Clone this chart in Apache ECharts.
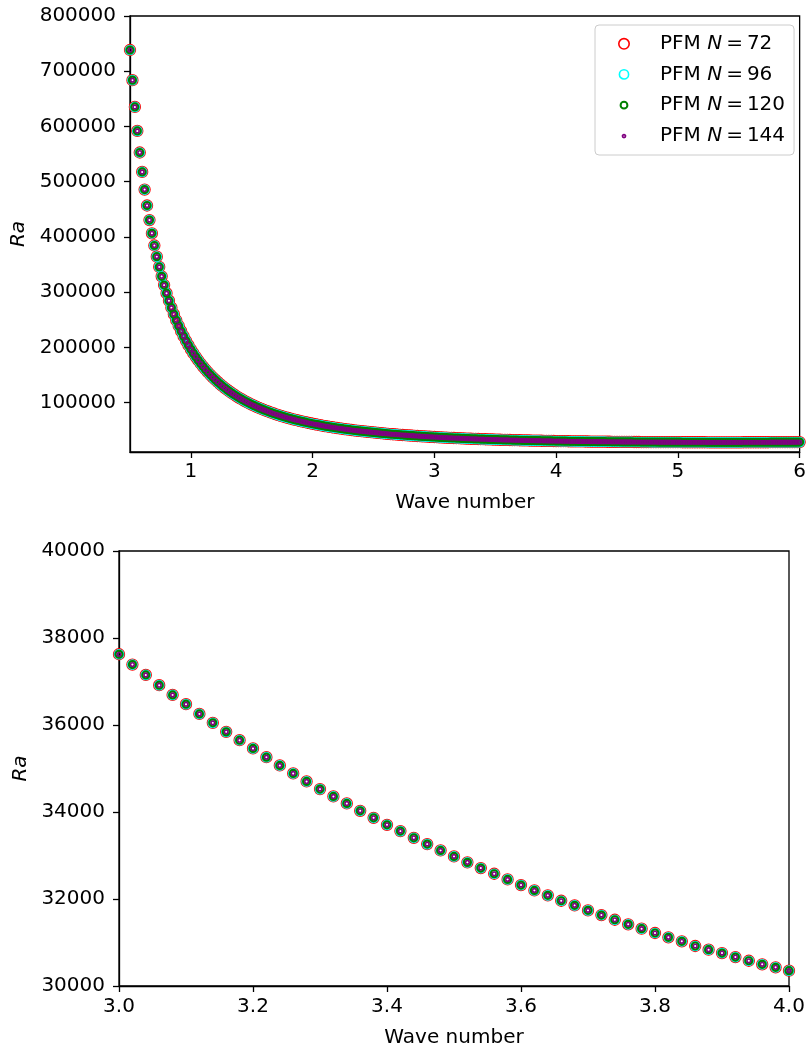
<!DOCTYPE html>
<html>
<head>
<meta charset="utf-8">
<title>Ra vs wave number</title>
<script src="https://cdn.jsdelivr.net/npm/echarts@6/dist/echarts.min.js"></script>
<style>
  html, body { margin: 0; padding: 0; background: #fff; }
  #chart { width: 809px; height: 1051px; }
</style>
</head>
<body>
<div id="chart"></div>
<script>
// Wave numbers sampled by the solver
const waveNumbers = [
  0.50, 0.52, 0.54, 0.56, 0.58, 0.60, 0.62, 0.64, 0.66, 0.68,
  0.70, 0.72, 0.74, 0.76, 0.78, 0.80, 0.82, 0.84, 0.86, 0.88,
  0.90, 0.92, 0.94, 0.96, 0.98, 1.00, 1.02, 1.04, 1.06, 1.08,
  1.10, 1.12, 1.14, 1.16, 1.18, 1.20, 1.22, 1.24, 1.26, 1.28,
  1.30, 1.32, 1.34, 1.36, 1.38, 1.40, 1.42, 1.44, 1.46, 1.48,
  1.50, 1.52, 1.54, 1.56, 1.58, 1.60, 1.62, 1.64, 1.66, 1.68,
  1.70, 1.72, 1.74, 1.76, 1.78, 1.80, 1.82, 1.84, 1.86, 1.88,
  1.90, 1.92, 1.94, 1.96, 1.98, 2.00, 2.02, 2.04, 2.06, 2.08,
  2.10, 2.12, 2.14, 2.16, 2.18, 2.20, 2.22, 2.24, 2.26, 2.28,
  2.30, 2.32, 2.34, 2.36, 2.38, 2.40, 2.42, 2.44, 2.46, 2.48,
  2.50, 2.52, 2.54, 2.56, 2.58, 2.60, 2.62, 2.64, 2.66, 2.68,
  2.70, 2.72, 2.74, 2.76, 2.78, 2.80, 2.82, 2.84, 2.86, 2.88,
  2.90, 2.92, 2.94, 2.96, 2.98, 3.00, 3.02, 3.04, 3.06, 3.08,
  3.10, 3.12, 3.14, 3.16, 3.18, 3.20, 3.22, 3.24, 3.26, 3.28,
  3.30, 3.32, 3.34, 3.36, 3.38, 3.40, 3.42, 3.44, 3.46, 3.48,
  3.50, 3.52, 3.54, 3.56, 3.58, 3.60, 3.62, 3.64, 3.66, 3.68,
  3.70, 3.72, 3.74, 3.76, 3.78, 3.80, 3.82, 3.84, 3.86, 3.88,
  3.90, 3.92, 3.94, 3.96, 3.98, 4.00, 4.02, 4.04, 4.06, 4.08,
  4.10, 4.12, 4.14, 4.16, 4.18, 4.20, 4.22, 4.24, 4.26, 4.28,
  4.30, 4.32, 4.34, 4.36, 4.38, 4.40, 4.42, 4.44, 4.46, 4.48,
  4.50, 4.52, 4.54, 4.56, 4.58, 4.60, 4.62, 4.64, 4.66, 4.68,
  4.70, 4.72, 4.74, 4.76, 4.78, 4.80, 4.82, 4.84, 4.86, 4.88,
  4.90, 4.92, 4.94, 4.96, 4.98, 5.00, 5.02, 5.04, 5.06, 5.08,
  5.10, 5.12, 5.14, 5.16, 5.18, 5.20, 5.22, 5.24, 5.26, 5.28,
  5.30, 5.32, 5.34, 5.36, 5.38, 5.40, 5.42, 5.44, 5.46, 5.48,
  5.50, 5.52, 5.54, 5.56, 5.58, 5.60, 5.62, 5.64, 5.66, 5.68,
  5.70, 5.72, 5.74, 5.76, 5.78, 5.80, 5.82, 5.84, 5.86, 5.88,
  5.90, 5.92, 5.94, 5.96, 5.98, 6.00
];

// Critical Rayleigh number at each wave number (the four resolutions coincide)
const rayleigh = [
  738400, 683880, 635310, 591840, 552800, 517590, 485740, 456820, 430500, 406470,
  384460, 364270, 345690, 328560, 312730, 298070, 284470, 271840, 260070, 249100,
  238850, 229270, 220290, 211870, 203950, 196510, 189500, 182900, 176660, 170770,
  165200, 159920, 154920, 150180, 145680, 141400, 137330, 133450, 129760, 126250,
  122890, 119690, 116630, 113700, 110900, 108220, 105650, 103190, 100840, 98570,
  96400, 94310, 92310, 90380, 88530, 86740, 85030, 83370, 81780, 80240,
  78760, 77320, 75940, 74610, 73320, 72080, 70870, 69710, 68580, 67500,
  66440, 65420, 64430, 63470, 62550, 61640, 60770, 59930, 59100, 58310,
  57530, 56780, 56050, 55340, 54660, 53990, 53340, 52700, 52090, 51490,
  50910, 50340, 49790, 49250, 48730, 48220, 47730, 47240, 46770, 46310,
  45870, 45430, 45010, 44590, 44190, 43800, 43410, 43040, 42670, 42320,
  41970, 41630, 41300, 40970, 40660, 40350, 40050, 39750, 39460, 39180,
  38910, 38640, 38380, 38120, 37870, 37627, 37390, 37151, 36915, 36692,
  36478, 36255, 36049, 35842, 35651, 35461, 35261, 35070, 34886, 34702,
  34526, 34358, 34197, 34027, 33866, 33706, 33561, 33407, 33262, 33117,
  32979, 32842, 32711, 32580, 32451, 32320, 32198, 32084, 31960, 31854,
  31739, 31631, 31523, 31418, 31317, 31218, 31119, 31027, 30919, 30834,
  30758, 30666, 30581, 30499, 30430, 30352, 30280, 30200, 30120, 30050,
  29980, 29910, 29850, 29780, 29720, 29660, 29600, 29540, 29480, 29420,
  29370, 29320, 29260, 29210, 29160, 29120, 29070, 29030, 28980, 28940,
  28900, 28860, 28820, 28780, 28750, 28710, 28680, 28640, 28610, 28580,
  28550, 28520, 28500, 28470, 28440, 28420, 28400, 28370, 28350, 28330,
  28310, 28290, 28270, 28260, 28240, 28230, 28210, 28200, 28190, 28170,
  28160, 28150, 28140, 28135, 28127, 28120, 28114, 28109, 28104, 28100,
  28096, 28094, 28092, 28091, 28090, 28091, 28093, 28094, 28096, 28100,
  28103, 28107, 28112, 28118, 28124, 28131, 28138, 28146, 28155, 28165,
  28174, 28184, 28195, 28207, 28219, 28231, 28245, 28259, 28273, 28288,
  28304, 28320, 28336, 28353, 28370, 28388
];

const resolutions = [72, 96, 120, 144];

// Tick labels
const overviewXTicks = [1, 2, 3, 4, 5, 6];
const overviewYTicks = [100000, 200000, 300000, 400000, 500000, 600000, 700000, 800000];
const zoomXTicks = [3.0, 3.2, 3.4, 3.6, 3.8, 4.0];
const zoomYTicks = [30000, 32000, 34000, 36000, 38000, 40000];

// Marker appearance per resolution: hollow rings, largest drawn first
const markerStyles = [
  { color: '#ff0000', size: 11, width: 1.3, legendR: 5.2, legendW: 1.6 },
  { color: '#00ffff', size: 9.4, width: 1.3, legendR: 4.6, legendW: 1.6 },
  { color: '#008000', size: 7.0, width: 2.2, legendR: 3.4, legendW: 2.0 },
  { color: '#800080', size: 3.6, width: 1.6, legendR: 1.5, legendW: 1.8 }
];

const FONT = 'DejaVu Sans';
const FS = 20;

const points = waveNumbers.map((k, i) => [k, rayleigh[i]]);
const seriesName = n => 'PFM N = ' + n;

// legend icon: ring inside a 44x20 box, centred at (10,10)
function ringIcon(r) {
  const a = (10 - r).toFixed(2), b = (10 + r).toFixed(2);
  return 'path://M0,0 M44,20 M' + a + ',10 A' + r + ',' + r + ' 0 1,0 ' + b + ',10 A' + r + ',' + r + ' 0 1,0 ' + a + ',10 Z';
}

const series = [];
[0, 1].forEach(g => {
  resolutions.forEach((n, j) => {
    const m = markerStyles[j];
    series.push({
      name: seriesName(n),
      type: 'scatter',
      xAxisIndex: g,
      yAxisIndex: g,
      data: points,
      symbol: 'circle',
      symbolSize: m.size,
      clip: true,
      silent: true,
      itemStyle: { color: 'rgba(0,0,0,0)', borderColor: m.color, borderWidth: m.width, opacity: 1 },
      emphasis: { disabled: true },
      z: 2 + j
    });
  });
});

const axisCommon = {
  type: 'value',
  axisLine: { show: true, onZero: false, lineStyle: { color: '#000', width: 1.3 } },
  axisTick: { show: true, inside: false, length: 6, lineStyle: { color: '#000', width: 1.3 } },
  splitLine: { show: false },
  nameTextStyle: { fontFamily: FONT, fontSize: FS, color: '#000' }
};

function xAxis(grid, min, max, ticks, fmt, gap, margin) {
  return Object.assign({}, axisCommon, {
    gridIndex: grid, min: min, max: max,
    name: 'Wave number', nameLocation: 'middle', nameGap: gap,
    axisTick: Object.assign({}, axisCommon.axisTick, { customValues: ticks }),
    axisLabel: { customValues: ticks, formatter: fmt, fontFamily: FONT, fontSize: FS, color: '#000', margin: margin, showMinLabel: true, showMaxLabel: true }
  });
}
function yAxis(grid, min, max, ticks, gap) {
  return Object.assign({}, axisCommon, {
    gridIndex: grid, min: min, max: max,
    name: 'Ra', nameLocation: 'middle', nameGap: gap, nameRotate: 90,
    nameTextStyle: { fontFamily: FONT, fontSize: FS, color: '#000', fontStyle: 'italic' },
    axisTick: Object.assign({}, axisCommon.axisTick, { customValues: ticks }),
    axisLabel: { customValues: ticks, formatter: v => String(Math.round(v)), fontFamily: FONT, fontSize: FS, color: '#000', margin: 14, showMinLabel: true, showMaxLabel: true }
  });
}

const option = {
  animation: false,
  backgroundColor: '#fff',
  grid: [
    { left: 130, top: 16, width: 671, height: 436, show: true, borderColor: '#000', borderWidth: 1.3, backgroundColor: 'transparent' },
    { left: 119, top: 551, width: 670, height: 435, show: true, borderColor: '#000', borderWidth: 1.3, backgroundColor: 'transparent' }
  ],
  xAxis: [
    xAxis(0, 0.5, 6, overviewXTicks, v => String(Math.round(v)), 41, 10),
    xAxis(1, 3, 4, zoomXTicks, v => v.toFixed(1), 42, 11)
  ],
  yAxis: [
    yAxis(0, 10500, 800000, overviewYTicks, 100),
    yAxis(1, 30000, 40000, zoomYTicks, 84)
  ],
  legend: {
    orient: 'vertical',
    left: 595,
    top: 25,
    padding: [8, 9, 8, 18],
    itemGap: 9,
    itemWidth: 44,
    itemHeight: 20,
    backgroundColor: 'rgba(255,255,255,0.8)',
    borderColor: '#cccccc',
    borderWidth: 1,
    borderRadius: 4,
    selectedMode: false,
    textStyle: {
      fontFamily: FONT, fontSize: FS, color: '#000', padding: [0, 0, 0, -3],
      rich: {
        it: { fontFamily: FONT, fontSize: FS, color: '#000', fontStyle: 'italic' },
        t: { fontFamily: FONT, fontSize: FS, color: '#000' }
      }
    },
    formatter: name => {
      const n = name.split('= ')[1];
      return '{t|PFM }{it|N}{t|\u2009=\u2009' + n + '}';
    },
    data: resolutions.map((n, j) => ({
      name: seriesName(n),
      icon: ringIcon(markerStyles[j].legendR),
      itemStyle: { color: 'rgba(0,0,0,0)', borderColor: markerStyles[j].color, borderWidth: markerStyles[j].legendW }
    }))
  },
  series: series
};

const chart = echarts.init(document.getElementById('chart'), null, { renderer: 'canvas' });
chart.setOption(option);
</script>
</body>
</html>
